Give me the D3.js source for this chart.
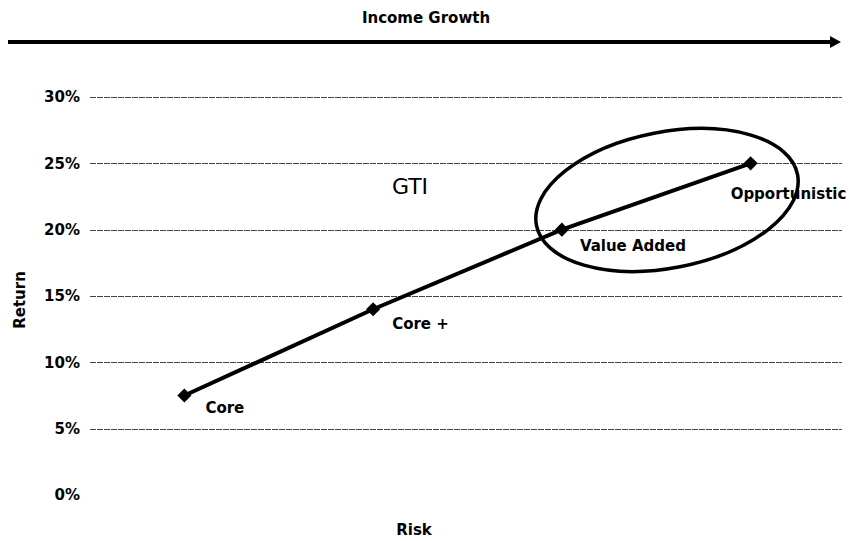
<!DOCTYPE html>
<html>
<head>
<meta charset="utf-8">
<script src="https://cdn.jsdelivr.net/npm/d3@7"></script>
<style>
    body { margin: 0; background: #ffffff; }
    text { font-family: 'DejaVu Sans', sans-serif; }
</style>
</head>
<body>
<div id="chart"></div>
<script>
'use strict';

var categories = ['Core', 'Core +', 'Value Added', 'Opportunistic'];
var returns = [0.075, 0.14, 0.20, 0.25];
var yTicks = [0, 0.05, 0.10, 0.15, 0.20, 0.25, 0.30];
// label offsets from each marker
var labelDx = [21, 19, 18, -20];
var labelDy = [17, 20, 21, 36];

var width = 850,
    height = 541;

var svg = d3.select('#chart').append('svg')
    .attr('width', width)
    .attr('height', height);

var x = d3.scaleBand()
    .domain(categories)
    .range([90, 845])
    .padding(0);

var y = d3.scaleLinear()
    .domain([0, 0.30])
    .range([495, 97]);

var cx = function(d) { return x(d) + x.bandwidth() / 2; };

// income growth arrow
svg.append('text')
    .attr('x', 426)
    .attr('y', 23)
    .attr('text-anchor', 'middle')
    .attr('font-size', '15px')
    .attr('font-weight', 'bold')
    .text('Income Growth');

svg.append('line')
    .attr('x1', 8)
    .attr('x2', 832)
    .attr('y1', 42)
    .attr('y2', 42)
    .attr('stroke', '#000000')
    .attr('stroke-width', 4);

svg.append('path')
    .attr('d', 'M 830 36 L 841 42 L 830 48 z')
    .attr('fill', '#000000');

// grid
var grid = svg.append('g')
    .attr('id', 'grid-layer');

grid.selectAll('line')
    .data(yTicks.filter(function(d) { return d > 0; }))
    .enter().append('line')
        .attr('x1', 90)
        .attr('x2', 842)
        .attr('y1', function(d) { return Math.round(y(d)) + 0.5; })
        .attr('y2', function(d) { return Math.round(y(d)) + 0.5; })
        .attr('stroke', '#444444')
        .attr('stroke-width', 1)
        .attr('stroke-dasharray', '6,1');

var yAxis = svg.append('g')
    .attr('transform', 'translate(84,0)')
    .call(d3.axisLeft(y)
        .tickValues(yTicks)
        .tickSize(0)
        .tickPadding(4)
        .tickFormat(d3.format('.0%')));

yAxis.select('.domain').remove();
yAxis.selectAll('text')
    .attr('font-family', 'DejaVu Sans, sans-serif')
    .attr('font-size', '15px')
    .attr('font-weight', 'bold')
    .attr('fill', '#000000');

svg.append('text')
    .attr('transform', 'translate(25,300) rotate(-90)')
    .attr('text-anchor', 'middle')
    .attr('font-size', '15px')
    .attr('font-weight', 'bold')
    .text('Return');

svg.append('text')
    .attr('x', 414)
    .attr('y', 535)
    .attr('text-anchor', 'middle')
    .attr('font-size', '15px')
    .attr('font-weight', 'bold')
    .text('Risk');

// GTI ellipse
svg.append('ellipse')
    .attr('cx', 667)
    .attr('cy', 200)
    .attr('rx', 133)
    .attr('ry', 68)
    .attr('transform', 'rotate(-11,667,200)')
    .attr('fill', 'none')
    .attr('stroke', '#000000')
    .attr('stroke-width', 3.5);

svg.append('text')
    .attr('x', 410)
    .attr('y', 194)
    .attr('text-anchor', 'middle')
    .attr('font-family', 'Liberation Sans, Arial, sans-serif')
    .attr('font-size', '22px')
    .text('GTI');

// series
var pts = categories.map(function(c, i) {
    return { name: c, x: cx(c), y: y(returns[i]), dx: labelDx[i], dy: labelDy[i] };
});

svg.append('path')
    .datum(pts)
    .attr('d', d3.line()
        .x(function(d) { return d.x; })
        .y(function(d) { return d.y; }))
    .attr('fill', 'none')
    .attr('stroke', '#000000')
    .attr('stroke-width', 4);

svg.selectAll('.marker')
    .data(pts)
    .enter().append('path')
        .attr('class', 'marker')
        .attr('d', d3.symbol().type(d3.symbolSquare).size(100))
        .attr('transform', function(d) { return 'translate(' + d.x + ',' + d.y + ') rotate(45)'; })
        .attr('fill', '#000000');

svg.selectAll('.point-label')
    .data(pts)
    .enter().append('text')
        .attr('class', 'point-label')
        .attr('x', function(d) { return d.x + d.dx; })
        .attr('y', function(d) { return d.y + d.dy; })
        .attr('font-size', '15px')
        .attr('font-weight', 'bold')
        .text(function(d) { return d.name; });
</script>
</body>
</html>
